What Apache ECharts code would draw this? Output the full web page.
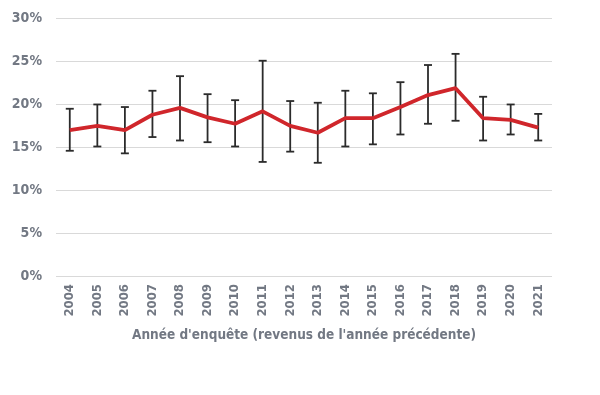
<!DOCTYPE html>
<html><head><meta charset="utf-8">
<script src="https://cdn.jsdelivr.net/npm/echarts@6/dist/echarts.min.js"></script>
<style>html,body{margin:0;padding:0;background:#fff}#c{width:600px;height:395px}</style>
</head><body><div id="c"></div>
<script>
var years = ['2004','2005','2006','2007','2008','2009','2010','2011','2012','2013','2014','2015','2016','2017','2018','2019','2020','2021'];
var values = [17.0,17.5,17.0,18.8,19.6,18.5,17.75,19.2,17.5,16.7,18.4,18.4,19.7,21.1,21.9,18.4,18.2,17.3];
var upper  = [19.5,20.0,19.7,21.6,23.3,21.2,20.5,25.1,20.4,20.2,21.6,21.3,22.6,24.6,25.9,20.9,20.0,18.9];
var lower  = [14.6,15.1,14.3,16.2,15.8,15.6,15.1,13.3,14.5,13.2,15.1,15.35,16.5,17.75,18.1,15.8,16.5,15.8];
var yTicks = [0,5,10,15,20,25,30];
var xTitle = "Année d'enquête (revenus de l'année précédente)";

var font = "'Liberation Sans Narrow','DejaVu Sans Condensed',sans-serif";
var txt = '#727883';
var errData = years.map(function(y,i){ return [i, lower[i], upper[i]]; });

var chart = echarts.init(document.getElementById('c'), null, {renderer:'canvas'});
chart.setOption({
  animation:false,
  grid:{left:56, right:48, top:18.7, bottom:119, containLabel:false},
  xAxis:{type:'category', data:years, boundaryGap:true,
    axisLine:{show:false}, axisTick:{show:false},
    axisLabel:{rotate:90, color:txt, fontFamily:font, fontWeight:'bold', fontSize:13, margin:8},
    name:xTitle, nameLocation:'middle', nameGap:52,
    nameTextStyle:{color:txt, fontFamily:font, fontWeight:'bold', fontSize:13.5}
  },
  yAxis:{type:'value', min:yTicks[0], max:yTicks[yTicks.length-1], interval:5,
    axisLine:{show:false}, axisTick:{show:false},
    splitLine:{lineStyle:{color:'#d9d9d9', width:1.2}},
    axisLabel:{formatter:'{value}%', color:txt, fontFamily:font, fontWeight:'bold', fontSize:14, margin:14}
  },
  series:[
    {type:'custom', data:errData, z:2,
      renderItem:function(params, api){
        var x = api.value(0);
        var lo = api.coord([x, api.value(1)]);
        var hi = api.coord([x, api.value(2)]);
        var w = 4;
        var st = {stroke:'#2b2b2b', lineWidth:1.8};
        return {type:'group', children:[
          {type:'line', shape:{x1:lo[0],y1:lo[1],x2:hi[0],y2:hi[1]}, style:st},
          {type:'line', shape:{x1:lo[0]-w,y1:lo[1],x2:lo[0]+w,y2:lo[1]}, style:st},
          {type:'line', shape:{x1:hi[0]-w,y1:hi[1],x2:hi[0]+w,y2:hi[1]}, style:st}
        ]};
      }
    },
    {type:'line', data:values, z:3, symbol:'none', smooth:false,
      lineStyle:{color:'#d0262b', width:3.8}}
  ]
});
</script></body></html>
